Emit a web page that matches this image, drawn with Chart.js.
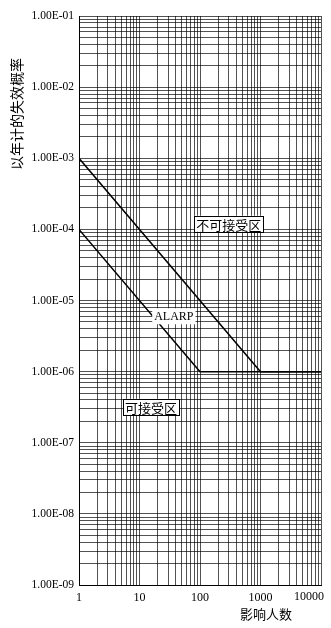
<!DOCTYPE html>
<html><head><meta charset="utf-8">
<script src="https://cdn.jsdelivr.net/npm/chart.js@4/dist/chart.umd.min.js"></script>
<style>html,body{margin:0;padding:0;background:#fff;}canvas{display:block;}</style>
</head><body>
<canvas id="c" width="331" height="628"></canvas>
<script>
// Data
const xTickValues = [1, 10, 100, 1000, 10000];
const yTickValues = [1e-9, 1e-8, 1e-7, 1e-6, 1e-5, 1e-4, 1e-3, 1e-2, 1e-1];
const upperX = [1, 1000, 10000];
const upperY = [1e-3, 1e-6, 1e-6];
const lowerX = [1, 100, 10000];
const lowerY = [1e-4, 1e-6, 1e-6];
const regionLabels = ['不可接受区', 'ALARP', '可接受区'];
const regionX = [300, 37, 15.5];
const regionY = [1.2e-4, 6e-6, 3.2e-7];
const regionBoxed = [true, false, true];
const xTitle = '影响人数';
const yTitle = '以年计的失效概率';

const SERIF = '"Liberation Serif","DejaVu Serif",serif';
const CJK = '"Noto Sans CJK SC",sans-serif';

function logTicks(min, max) {
  const out = [];
  for (let e = Math.round(Math.log10(min)); e < Math.round(Math.log10(max)); e++) {
    for (let m = 1; m < 10; m++) out.push({value: m * Math.pow(10, e)});
  }
  out.push({value: max});
  return out;
}
function isPow10(v) { const l = Math.log10(v); return Math.abs(l - Math.round(l)) < 1e-9; }
function fmtE(v) {
  const e = Math.round(Math.log10(v));
  const s = Math.abs(e) < 10 ? '0' + Math.abs(e) : '' + Math.abs(e);
  return '1.00E' + (e < 0 ? '-' : '+') + s;
}

const annot = {
  id: 'annot',
  afterDraw(chart) {
    const ctx = chart.ctx, xs = chart.scales.x, ys = chart.scales.y;
    ctx.save();
    // region labels
    for (let i = 0; i < regionLabels.length; i++) {
      const px = xs.getPixelForValue(regionX[i]);
      const py = ys.getPixelForValue(regionY[i]);
      const isLatin = /^[A-Z]+$/.test(regionLabels[i]);
      ctx.font = isLatin ? '12px ' + SERIF : '13px ' + CJK;
      const w = ctx.measureText(regionLabels[i]).width;
      const h = 16;
      ctx.fillStyle = '#fff';
      ctx.fillRect(px - w / 2 - 2, py - h / 2, w + 4, h);
      if (regionBoxed[i]) {
        ctx.strokeStyle = '#000';
        ctx.lineWidth = 1;
        ctx.strokeRect(Math.round(px - w / 2 - 2) + 0.5, Math.round(py - h / 2) + 0.5, Math.round(w + 4), h);
      }
      ctx.fillStyle = '#000';
      ctx.textAlign = 'center';
      ctx.textBaseline = 'middle';
      ctx.fillText(regionLabels[i], px, py + 1);
    }
    // last x tick label, right-aligned to fit
    ctx.font = '12px ' + SERIF;
    ctx.fillStyle = '#000';
    ctx.textAlign = 'right';
    ctx.textBaseline = 'middle';
    ctx.fillText('10000', xs.getPixelForValue(10000) + 3, 597);
    // axis titles
    ctx.font = '13px ' + CJK;
    ctx.textAlign = 'center';
    ctx.fillText(xTitle, 266, 614);
    ctx.translate(17, 114);
    ctx.rotate(-Math.PI / 2);
    ctx.font = '14px ' + CJK;
    ctx.fillText(yTitle, 0, 0);
    ctx.restore();
  }
};

new Chart(document.getElementById('c'), {
  type: 'scatter',
  data: {
    datasets: [
      {data: upperX.map((x, i) => ({x, y: upperY[i]})), showLine: true, borderColor: '#000', borderWidth: 1.5, pointRadius: 0, fill: false},
      {data: lowerX.map((x, i) => ({x, y: lowerY[i]})), showLine: true, borderColor: '#000', borderWidth: 1.5, pointRadius: 0, fill: false}
    ]
  },
  options: {
    responsive: false,
    animation: false,
    devicePixelRatio: 1,
    layout: {padding: {left: 0, top: 16, right: 10, bottom: 0}},
    plugins: {legend: {display: false}, tooltip: {enabled: false}},
    scales: {
      x: {
        type: 'logarithmic', min: 1, max: 10000,
        afterBuildTicks(s) { s.ticks = logTicks(1, 10000); },
        afterFit(s) { s.height = 43; },
        grid: {color: 'rgba(0,0,0,0.68)', lineWidth: 1, drawTicks: false},
        border: {color: '#000', width: 1},
        ticks: {
          autoSkip: false, maxRotation: 0, padding: 6, color: '#000',
          font: {family: SERIF, size: 12},
          callback(v) { return (isPow10(v) && v < 10000) ? String(v) : ''; }
        }
      },
      y: {
        type: 'logarithmic', min: 1e-9, max: 1e-1,
        afterBuildTicks(s) { s.ticks = logTicks(1e-9, 1e-1); },
        afterFit(s) { s.width = 79; },
        grid: {color: 'rgba(0,0,0,0.68)', lineWidth: 1, drawTicks: false},
        border: {color: '#000', width: 1},
        ticks: {
          autoSkip: false, padding: 5, color: '#000',
          font: {family: SERIF, size: 11.5},
          callback(v) { return isPow10(v) ? fmtE(v) : ''; }
        }
      }
    }
  },
  plugins: [annot]
});
</script>
</body></html>
